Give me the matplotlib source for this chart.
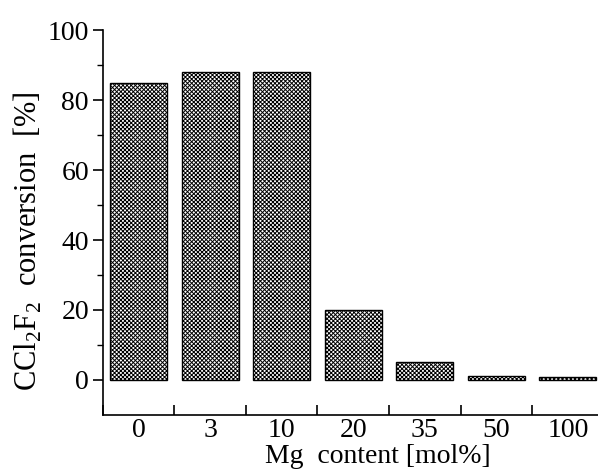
import numpy as np
import matplotlib.pyplot as plt
from matplotlib.ticker import FixedLocator

# Mg content categories and CCl2F2 conversion values
mg_content = ['0', '3', '10', '20', '35', '50', '100']
conversion = [85, 88, 88, 20, 5, 1, 0.8]

plt.rcParams['font.family'] = ['Liberation Serif', 'DejaVu Serif']
plt.rcParams['mathtext.fontset'] = 'custom'
plt.rcParams['mathtext.rm'] = 'Liberation Serif'
plt.rcParams['hatch.linewidth'] = 0.7

fig = plt.figure(figsize=(5.98, 4.72), dpi=100)
ax = fig.add_axes([0.172, 0.121, 0.835, 0.815])

x = np.arange(len(mg_content))
ax.bar(x, conversion, width=0.8, color='white', edgecolor='black',
       linewidth=1.0, hatch='xxxxxxxx')

ax.set_xlim(-0.5, 6.48)
ax.set_ylim(-10, 100)

ax.spines['top'].set_visible(False)
ax.spines['right'].set_visible(False)
ax.spines['left'].set_linewidth(1.2)
ax.spines['bottom'].set_linewidth(1.2)

ax.set_yticks([0, 20, 40, 60, 80, 100])
ax.yaxis.set_minor_locator(FixedLocator([10, 30, 50, 70, 90]))
ax.tick_params(axis='y', which='major', direction='out', length=7, width=1.2,
               labelsize=20, pad=3)
ax.tick_params(axis='y', which='minor', direction='out', length=4, width=1.0)

ax.set_xticks(x)
ax.set_xticklabels(mg_content)
ax.xaxis.set_minor_locator(FixedLocator(np.arange(-0.5, 6.6, 1.0)))
ax.tick_params(axis='x', which='major', length=0, labelsize=20, pad=2)
ax.tick_params(axis='x', which='minor', direction='in', length=7, width=1.2)

ax.set_ylabel(r'CCl$_2$F$_2$  conversion  [%]', fontsize=22, va='center')
ax.yaxis.set_label_coords(-0.150, 0.452)
ax.set_xlabel('Mg  content [mol%]', fontsize=20, va='baseline')
ax.xaxis.set_label_coords(0.551, -0.125)

fig.savefig('out.png', dpi=100)
